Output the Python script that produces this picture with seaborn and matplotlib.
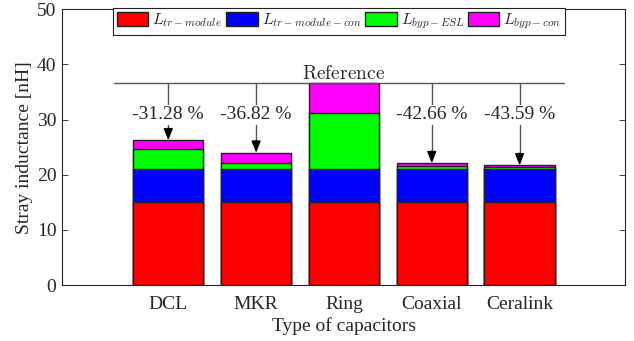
import matplotlib
matplotlib.use("Agg")
import matplotlib.pyplot as plt
import seaborn as sns
import numpy as np
import pandas as pd

categories = ["DCL", "MKR", "Ring", "Coaxial", "Ceralink"]
L_tr_module = [15.0, 15.0, 15.0, 15.0, 15.0]
L_tr_module_con = [5.95, 5.95, 5.95, 5.95, 5.95]
L_byp_ESL = [3.65, 1.15, 10.15, 0.6, 0.4]
L_byp_con = [1.65, 1.9, 5.5, 0.55, 0.35]
reductions = ["-31.28 %", "-36.82 %", None, "-42.66 %", "-43.59 %"]
reference_value = 36.6
series_labels = [r"$L_{tr-module}$", r"$L_{tr-module-con}$", r"$L_{byp-ESL}$", r"$L_{byp-con}$"]
series_colors = ["#FF0000", "#0000FF", "#00FF00", "#FF00FF"]

sns.set_style("ticks")
plt.rcParams["font.family"] = ["Liberation Serif", "DejaVu Serif"]
plt.rcParams["mathtext.fontset"] = "cm"

fig = plt.figure(figsize=(6.34, 3.41), dpi=100)
ax = fig.add_axes([0.0978, 0.164, 0.888, 0.809])

series = [L_tr_module, L_tr_module_con, L_byp_ESL, L_byp_con]
cum = np.cumsum(np.array(series), axis=0)
# draw from top (total) to bottom so each segment shows
for i in range(len(series) - 1, -1, -1):
    df = pd.DataFrame({"cat": categories, "val": cum[i]})
    sns.barplot(data=df, x="cat", y="val", color=series_colors[i], width=0.8,
                edgecolor="#222222", linewidth=1.0, saturation=1, ax=ax,
                label=series_labels[i], order=categories)

# reference line and arrows
ax.plot([-0.62, 4.5], [reference_value, reference_value], color="#555555", lw=1.0, zorder=3)
ax.text(2, reference_value + 0.05, r"$\mathrm{Reference}$", ha="center", va="bottom",
        fontsize=14, zorder=4)
totals = cum[-1]
for i, txt in enumerate(reductions):
    if txt is None:
        continue
    ax.plot([i, i], [reference_value, totals[i] + 1.0], color="#555555", lw=1.0, zorder=3)
    ax.annotate("", xy=(i, totals[i]), xytext=(i, totals[i] + 2.2),
                arrowprops=dict(arrowstyle="-|>,head_length=0.7,head_width=0.28",
                                color="black", lw=1.0, shrinkA=0, shrinkB=0),
                zorder=5)
    ax.text(i, 30.85, txt, ha="center", va="center", fontsize=14, zorder=6,
            bbox=dict(facecolor="white", edgecolor="none", pad=1.0))

ax.set_xlim(-1.21, 5.2)
ax.set_ylim(0, 50)
ax.set_yticks([0, 10, 20, 30, 40, 50])
ax.set_xlabel("Type of capacitors", fontsize=14, labelpad=3)
ax.set_ylabel("Stray inductance [nH]", fontsize=14, labelpad=3)
ax.tick_params(direction="in", top=True, right=True, labelsize=14, length=4,
               color="#262626", width=0.6)
ax.tick_params(axis="x", pad=8)
ax.tick_params(axis="y", pad=4)
for s in ax.spines.values():
    s.set_color("#262626")
    s.set_linewidth(0.8)

handles, labels = ax.get_legend_handles_labels()
order = [labels.index(l) for l in series_labels]
leg = ax.legend([handles[k] for k in order], [labels[k] for k in order],
                loc="center", bbox_to_anchor=(0.492, 0.955), ncol=4, fontsize=11.5,
                frameon=True, fancybox=False, edgecolor="#222222", framealpha=1,
                handlelength=2.0, handleheight=1.0, handletextpad=0.25,
                columnspacing=0.2, borderpad=0.22, borderaxespad=0)
leg.get_frame().set_linewidth(0.8)
leg.set_zorder(10)

fig.savefig("out.png", dpi=100)
